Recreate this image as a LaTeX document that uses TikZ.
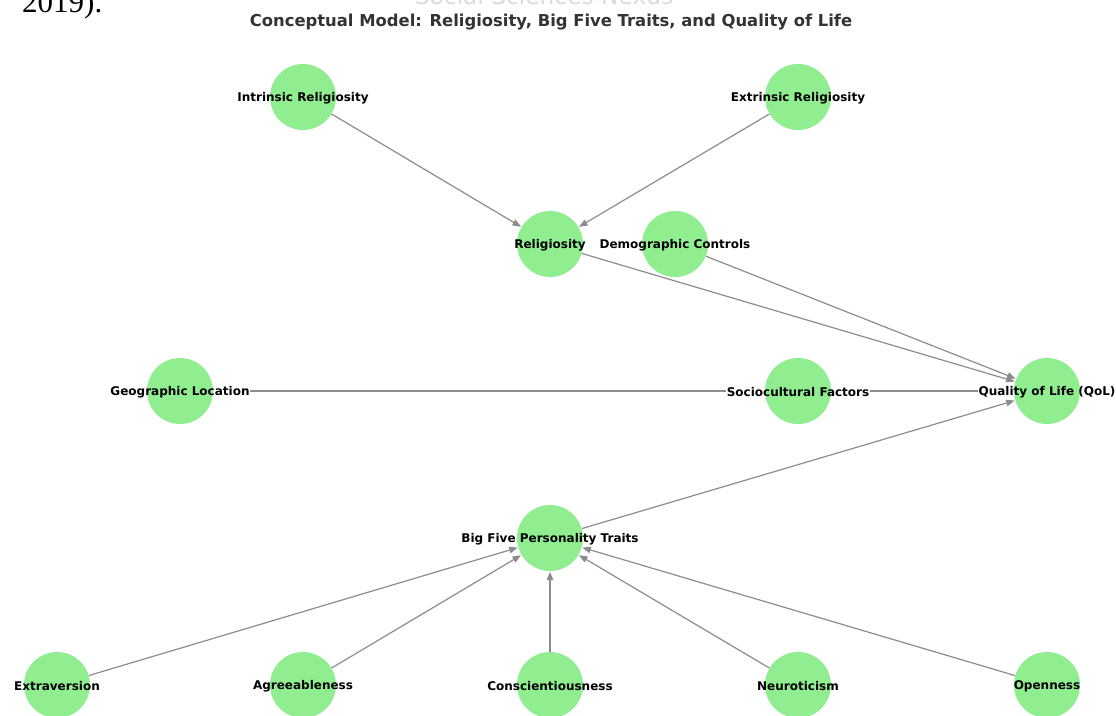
\documentclass[tikz,border=0pt]{standalone}
\usepackage{fontspec}
\setmainfont{DejaVu Sans}
\newfontfamily\serifface{Liberation Serif}
\usetikzlibrary{arrows.meta}
\definecolor{nodegreen}{HTML}{90EE90}
\definecolor{edgegray}{HTML}{8C8C8C}
\definecolor{titlegray}{HTML}{333333}
\definecolor{wmgray}{HTML}{DADADA}
\pgfdeclarelayer{edges}
\pgfdeclarelayer{halo}
\pgfsetlayers{edges,halo,main}
\tikzset{
  circ/.style={circle, fill=nodegreen, draw=none, minimum size=66pt, inner sep=0pt},
  lbl/.style={font=\fontsize{12}{14}\selectfont\bfseries, text=black, inner sep=0.6pt},
  halobox/.style={lbl, fill=white, text=white},
  edge/.style={draw=edgegray, line width=1.2pt, -{Triangle[length=8.5pt,width=6.5pt]}, shorten >=0.5pt},
}
\newcommand{\vnode}[4]{%
  \node[circ] (#1) at (#2,#3) {};
  \begin{pgfonlayer}{halo}\node[halobox] at ([yshift=-1pt]#1) {#4};\end{pgfonlayer}
  \node[lbl] (#1-l) at ([yshift=-1pt]#1) {#4};
}
\begin{document}
\begin{tikzpicture}[x=1pt,y=-1pt]
\useasboundingbox (0,0) rectangle (1116,715);
\begin{scope}
\clip (0,0) rectangle (1116,715);
\node[anchor=base west, font=\serifface\fontsize{31}{31}\selectfont, inner sep=0pt] (yr) at (22,12.5) {2019).};
\node[anchor=base, font=\fontsize{23.3}{24}\selectfont, text=wmgray, inner sep=0pt] (wm) at (544,4) {Social Sciences Nexus};
\end{scope}
\node[font=\fontsize{16.4}{18}\selectfont\bfseries, text=titlegray, inner sep=0pt] (title) at (551,22.5) {Conceptual Model: Religiosity, Big Five Traits, and Quality of Life};

\vnode{intr}{303}{97}{Intrinsic Religiosity}
\vnode{extr}{798}{97}{Extrinsic Religiosity}
\vnode{rel}{550}{244}{Religiosity}
\vnode{demo}{675}{244}{Demographic Controls}
\vnode{geo}{180}{391}{Geographic Location}
\vnode{soc}{798}{391}{Sociocultural Factors}
\vnode{qol}{1047}{391}{Quality of Life (QoL)}
\vnode{big}{550}{538}{Big Five Personality Traits}
\vnode{ext}{57}{685}{Extraversion}
\vnode{agr}{303}{685}{Agreeableness}
\vnode{con}{550}{685}{Conscientiousness}
\vnode{neu}{798}{685}{Neuroticism}
\vnode{ope}{1047}{685}{Openness}

\begin{pgfonlayer}{edges}
\draw[edge] (intr) -- (rel);
\draw[edge] (extr) -- (rel);
\draw[edge] (rel) -- (qol);
\draw[edge] (demo) -- (qol);
\draw[edge] (geo) -- (soc);
\draw[edge] (soc) -- (qol);
\draw[edge] (big) -- (qol);
\draw[edge] (ext) -- (big);
\draw[edge] (agr) -- (big);
\draw[edge] (con) -- (big);
\draw[edge] (neu) -- (big);
\draw[edge] (ope) -- (big);
\end{pgfonlayer}
\end{tikzpicture}
\end{document}
